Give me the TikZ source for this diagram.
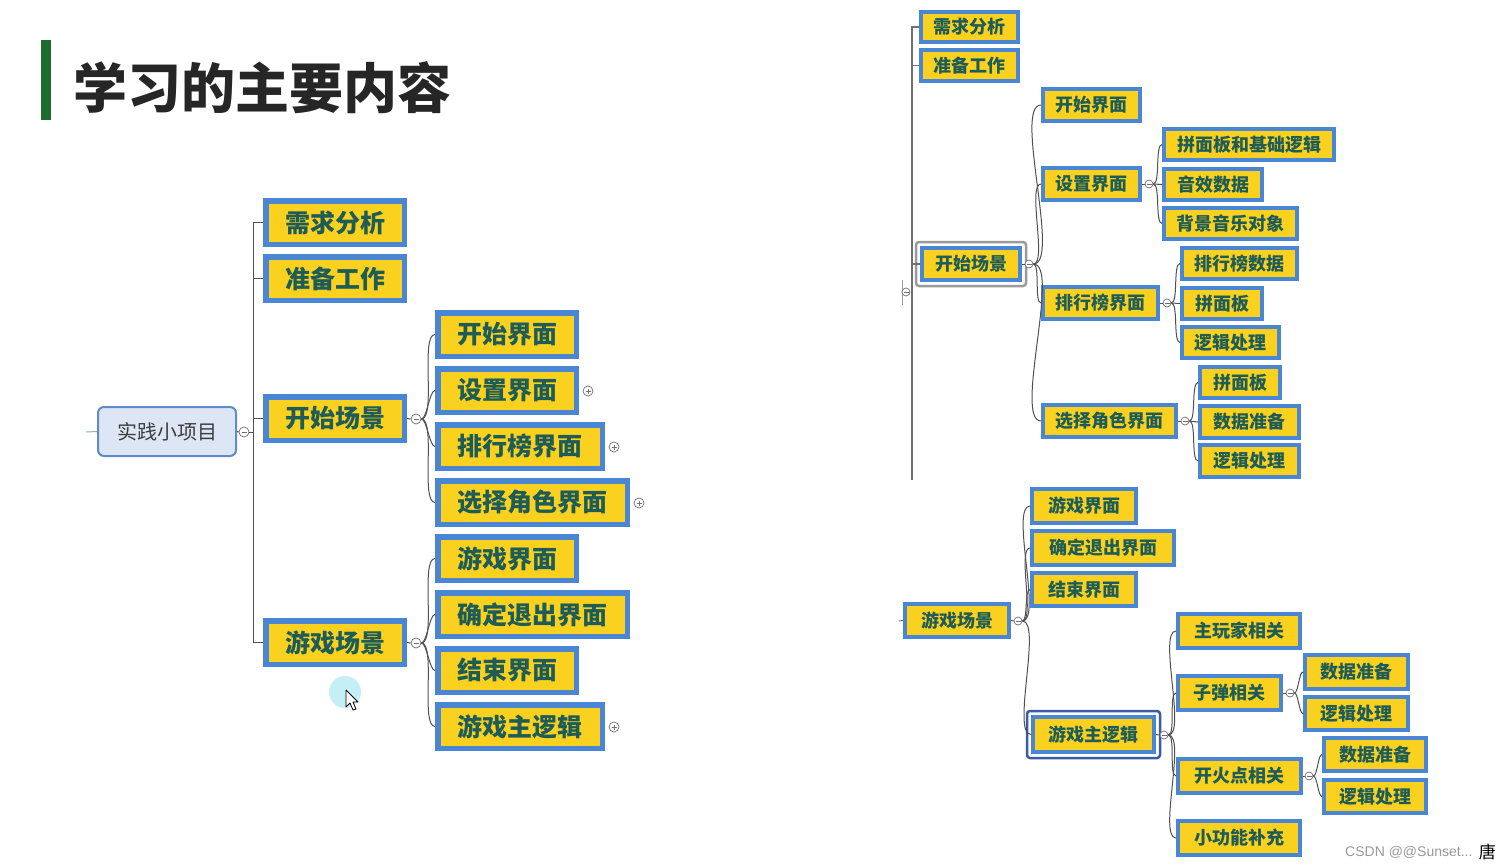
\documentclass[tikz,border=0pt]{standalone}
\usepackage{fontspec}
\newfontfamily\cjk{Noto Sans CJK SC}
\newfontfamily\wm{Liberation Sans}
\definecolor{yel}{HTML}{F9D11E}
\definecolor{bblue}{HTML}{4A86D4}
\definecolor{txt}{HTML}{1E5C58}
\definecolor{rootfill}{HTML}{DCE6F5}
\definecolor{rootdraw}{HTML}{5E8CC8}
\definecolor{connc}{HTML}{505050}
\definecolor{togc}{HTML}{707070}
\definecolor{titlec}{HTML}{262626}
\definecolor{barc}{HTML}{1E6B30}
\definecolor{selgray}{HTML}{9A9A9A}
\definecolor{selblue}{HTML}{3A5BA8}
\definecolor{cursc}{HTML}{C5EFF7}
\tikzset{
  conn/.style={draw=connc, line width=1pt},
  bigbox/.style={draw=bblue, fill=yel, line width=5.5pt, inner sep=0pt, outer sep=auto, text=txt,
    font=\cjk\bfseries\fontsize{25}{30}\selectfont},
  smallbox/.style={draw=bblue, fill=yel, line width=4pt, inner sep=0pt, outer sep=auto, text=txt,
    font=\cjk\bfseries\fontsize{18}{22}\selectfont},
  tog/.style={circle, draw=togc, fill=white, line width=0.7pt, inner sep=0pt, minimum size=#1},
  tog/.default=10pt,
  minus/.style={path picture={\draw[togc,line width=0.7pt] ([xshift=-2.5pt]path picture bounding box.center) -- ([xshift=2.5pt]path picture bounding box.center);}},
  plus/.style={path picture={\draw[togc,line width=0.7pt] ([xshift=-2.5pt]path picture bounding box.center) -- ([xshift=2.5pt]path picture bounding box.center) ([yshift=-2.5pt]path picture bounding box.center) -- ([yshift=2.5pt]path picture bounding box.center);}},
  sel/.style={draw=#1, line width=2.5pt, rounded corners=3pt},
}
% name, x1, y1, x2, y2, text
\newcommand\BB[6]{\node[bigbox, minimum width={(#4-#2-5.5)*1pt}, minimum height={(#5-#3-5.5)*1pt}] (#1) at ({(#2+#4)/2},{(#3+#5)/2}) {#6};}
\newcommand\SB[6]{\node[smallbox, minimum width={(#4-#2-4)*1pt}, minimum height={(#5-#3-4)*1pt}] (#1) at ({(#2+#4)/2},{(#3+#5)/2}) {#6};}
\newcommand\CV[2]{\draw[conn] (#1.east) to[out=0,in=180,looseness=0.45] (#2.west);}
\begin{document}
\begin{tikzpicture}[x=1pt,y=-1pt]
\useasboundingbox (0,0) rectangle (1497,867);
\fill[white] (0,0) rectangle (1497,867);

% title
\fill[barc] (41,40) rectangle (51,120);
\node[anchor=west, inner sep=0pt, text=titlec, font=\cjk\bfseries\fontsize{54}{60}\selectfont] (title) at (73,88) {学习的主要内容};

% ===== left map =====
\node[draw=rootdraw, fill=rootfill, line width=2pt, rounded corners=6pt, minimum width=138pt, minimum height=49pt, inner sep=0pt, outer sep=auto, text=titlec!90, font=\cjk\fontsize{20}{24}\selectfont] (root) at (167,431.5) {实践小项目};
\coordinate (rootin) at (86,432);
\draw[draw=rootdraw!70, line width=1pt] (rootin) -- (root.west);
\node[tog, minus] (c0) at (244,432) {};
\coordinate (sp) at (253,432);
\draw[conn] (root.east) -- (c0.west);
\draw[conn] (c0.east) -- (sp);

\BB{L1}{263}{198}{407}{247}{需求分析}
\BB{L2}{263}{254}{407}{303}{准备工作}
\BB{L3}{263}{394}{407}{443}{开始场景}
\BB{L4}{263}{618}{407}{667}{游戏场景}
\foreach \n in {L1,L2,L3,L4} {\draw[conn] (sp) |- (\n.west);}

\node[tog, minus] (c3) at (416,419) {};
\node[tog, minus] (c4) at (416,643) {};
\draw[conn] (L3.east) -- (c3.west);
\draw[conn] (L4.east) -- (c4.west);

\BB{L31}{435}{310}{579}{359}{开始界面}
\BB{L32}{435}{366}{579}{415}{设置界面}
\BB{L33}{435}{422}{605}{471}{排行榜界面}
\BB{L34}{435}{478}{630}{527}{选择角色界面}
\BB{L41}{435}{534}{579}{583}{游戏界面}
\BB{L42}{435}{590}{630}{639}{确定退出界面}
\BB{L43}{435}{646}{579}{695}{结束界面}
\BB{L44}{435}{702}{605}{751}{游戏主逻辑}
\foreach \n in {L31,L32,L33,L34} {\CV{c3}{\n}}
\foreach \n in {L41,L42,L43,L44} {\CV{c4}{\n}}

\node[tog, plus] (p32) at (588,391) {};
\node[tog, plus] (p33) at (614,447) {};
\node[tog, plus] (p34) at (639,503) {};
\node[tog, plus] (p44) at (614,727) {};

% cursor
\fill[cursc] (345,692) circle (16);
\draw[black, fill=white, line width=0.8pt, line join=round] (346,690) -- (346,707) -- (350,703) -- (353,710) -- (356,709) -- (353,702) -- (358,702) -- cycle;

% ===== right top map =====
\draw[draw=togc!70, line width=0.8pt] (902,280) -- (902,305);
\node[tog=8pt, minus] (rc0) at (906,292) {};
\coordinate (rsp) at (912,264);
\coordinate (rspend) at (912,480);
\draw[draw=togc, line width=1.2pt] (rsp) -- (rspend);

\SB{R1}{919}{10}{1020}{44}{需求分析}
\SB{R2}{919}{48}{1020}{83}{准备工作}
\draw[sel=selgray] (916,242) rectangle (1026,286);
\SB{R3}{920}{246}{1022}{282}{开始场景}
\foreach \n in {R1,R2,R3} {\draw[draw=togc, line width=1.2pt] (rsp) |- (\n.west);}
\node[tog=8pt, minus] (rc3) at (1029,264) {};
\draw[conn] (R3.east) -- (rc3.west);

\SB{R31}{1041}{87}{1142}{123}{开始界面}
\SB{R32}{1041}{166}{1142}{202}{设置界面}
\SB{R33}{1041}{285}{1160}{321}{排行榜界面}
\SB{R34}{1041}{403}{1178}{439}{选择角色界面}
\foreach \n in {R31,R32,R33,R34} {\CV{rc3}{\n}}

\node[tog=8pt, minus] (rc32) at (1149,184) {};
\node[tog=8pt, minus] (rc33) at (1167,303) {};
\node[tog=8pt, minus] (rc34) at (1185,421) {};
\draw[conn] (R32.east) -- (rc32.west);
\draw[conn] (R33.east) -- (rc33.west);
\draw[conn] (R34.east) -- (rc34.west);

\SB{R321}{1162}{127}{1336}{162}{拼面板和基础逻辑}
\SB{R322}{1162}{167}{1264}{202}{音效数据}
\SB{R323}{1162}{206}{1299}{241}{背景音乐对象}
\SB{R331}{1180}{246}{1299}{281}{排行榜数据}
\SB{R332}{1180}{286}{1264}{321}{拼面板}
\SB{R333}{1180}{325}{1281}{360}{逻辑处理}
\SB{R341}{1198}{365}{1282}{400}{拼面板}
\SB{R342}{1198}{404}{1301}{440}{数据准备}
\SB{R343}{1198}{443}{1301}{479}{逻辑处理}
\foreach \n in {R321,R322,R323} {\CV{rc32}{\n}}
\foreach \n in {R331,R332,R333} {\CV{rc33}{\n}}
\foreach \n in {R341,R342,R343} {\CV{rc34}{\n}}

% ===== right bottom map =====
\SB{B0}{903}{602}{1011}{639}{游戏场景}
\coordinate (bin) at (899,621);
\draw[draw=togc, line width=1pt] (bin) -- (B0.west);
\node[tog=8pt, minus] (bc0) at (1018,621) {};
\draw[conn] (B0.east) -- (bc0.west);

\SB{B1}{1030}{487}{1138}{525}{游戏界面}
\SB{B2}{1030}{529}{1176}{567}{确定退出界面}
\SB{B3}{1030}{571}{1138}{608}{结束界面}
\draw[sel=selblue] (1027,711) rectangle (1160,758);
\SB{B4}{1031}{715}{1156}{754}{游戏主逻辑}
\foreach \n in {B1,B2,B3,B4} {\CV{bc0}{\n}}

\node[tog=8pt, minus] (bc4) at (1164,735) {};
\draw[conn] (B4.east) -- (bc4.west);

\SB{B41}{1176}{612}{1302}{650}{主玩家相关}
\SB{B42}{1176}{674}{1283}{712}{子弹相关}
\SB{B43}{1176}{757}{1303}{795}{开火点相关}
\SB{B44}{1176}{819}{1302}{857}{小功能补充}
\foreach \n in {B41,B42,B43,B44} {\CV{bc4}{\n}}

\node[tog=8pt, minus] (bc42) at (1290,693) {};
\node[tog=8pt, minus] (bc43) at (1309,776) {};
\draw[conn] (B42.east) -- (bc42.west);
\draw[conn] (B43.east) -- (bc43.west);

\SB{B421}{1303}{653}{1410}{691}{数据准备}
\SB{B422}{1303}{695}{1410}{732}{逻辑处理}
\SB{B431}{1322}{736}{1428}{773}{数据准备}
\SB{B432}{1322}{778}{1428}{815}{逻辑处理}
\foreach \n in {B421,B422} {\CV{bc42}{\n}}
\foreach \n in {B431,B432} {\CV{bc43}{\n}}

% watermark
\node[anchor=west, inner sep=0pt, text=gray!80, font=\wm\fontsize{14}{16}\selectfont] (wm) at (1345,852) {CSDN @@Sunset...};
\node[anchor=east, inner sep=0pt, text=black, font=\cjk\fontsize{17}{20}\selectfont] (tang) at (1496,852) {唐};
\end{tikzpicture}
\end{document}
